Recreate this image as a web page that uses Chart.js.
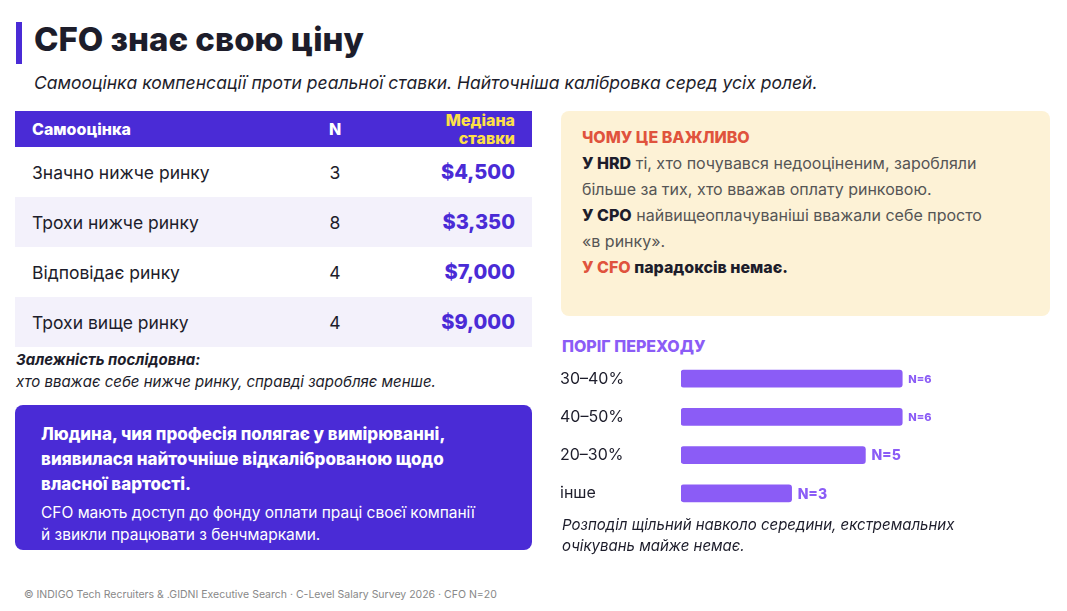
<!DOCTYPE html>
<html lang="uk">
<head>
<meta charset="utf-8">
<script src="https://cdn.jsdelivr.net/npm/chart.js@4"></script>
<style>
  body { margin: 0; width: 1067px; height: 611px; background: #fff; font-family: Inter, 'Noto Sans', sans-serif; color: #1d1d2b; position: relative; overflow: hidden; }
  .abs { position: absolute; }
  .bar { left: 16px; top: 22px; width: 6px; height: 42px; background: #4a2bd6; }
  h1 { left: 34px; top: 19px; margin: 0; font-size: 33px; font-weight: 800; }
  .sub { left: 34px; top: 72px; font-size: 17.5px; font-style: italic; }
  table { left: 15px; top: 111px; width: 517px; border-collapse: collapse; }
  th { background: #4a2bd6; color: #fff; font-size: 16px; font-weight: 800; height: 36px; padding: 0; }
  td { height: 50px; font-size: 17.5px; padding: 0; }
  tr:nth-child(odd) td { background: #f3f1fb; }
  .c1 { text-align: left; padding-left: 17px; }
  .c2 { text-align: center; width: 60px; }
  .c3 { text-align: right; padding-right: 17px; width: 150px; }
  th.c3 { color: #fde047; line-height: 18px; }
  td.c3 { color: #4a2bd6; font-weight: 800; font-size: 20px; }
  .note { left: 16px; top: 349px; font-size: 15px; font-style: italic; line-height: 22px; }
  .box { left: 15px; top: 405px; width: 517px; height: 145px; background: #4a2bd6; border-radius: 8px; color: #fff; box-sizing: border-box; padding: 17px 40px 0 26px; }
  .box b { display: block; font-size: 17px; line-height: 25px; font-weight: 800; }
  .box p { margin: 5px 10px 0 0; font-size: 15.5px; line-height: 22px; }
  .why { left: 561px; top: 111px; width: 489px; height: 205px; background: #fdf2d6; border-radius: 8px; box-sizing: border-box; padding: 13px 48px 0 21px; font-size: 16px; line-height: 26px; color: #555; }
  .why .t { color: #e0533d; font-weight: 800; font-size: 16px; }
  .why b { color: #1d1d2b; font-weight: 800; }
  .why .r { color: #e0533d; }
  .ht { left: 562px; top: 336px; color: #8b5cf6; font-weight: 800; font-size: 16px; }
  .cw { left: 560px; top: 350px; width: 416px; height: 172px; }
  .dist { left: 562px; top: 514px; font-size: 15px; font-style: italic; line-height: 21px; }
  .foot { left: 24px; top: 588px; font-size: 10.5px; color: #888; }
</style>
</head>
<body>
<div class="abs bar"></div>
<h1 class="abs">CFO знає свою ціну</h1>
<div class="abs sub">Самооцінка компенсації проти реальної ставки. Найточніша калібровка серед усіх ролей.</div>
<table class="abs">
  <tr><th class="c1">Самооцінка</th><th class="c2">N</th><th class="c3">Медіана<br>ставки</th></tr>
  <tr><td class="c1">Значно нижче ринку</td><td class="c2">3</td><td class="c3">$4,500</td></tr>
  <tr><td class="c1">Трохи нижче ринку</td><td class="c2">8</td><td class="c3">$3,350</td></tr>
  <tr><td class="c1">Відповідає ринку</td><td class="c2">4</td><td class="c3">$7,000</td></tr>
  <tr><td class="c1">Трохи вище ринку</td><td class="c2">4</td><td class="c3">$9,000</td></tr>
</table>
<div class="abs note"><b>Залежність послідовна:</b><br>хто вважає себе нижче ринку, справді заробляє менше.</div>
<div class="abs box"><b>Людина, чия професія полягає у вимірюванні, виявилася найточніше відкаліброваною щодо власної вартості.</b><p>CFO мають доступ до фонду оплати праці своєї компанії й звикли працювати з бенчмарками.</p></div>
<div class="abs why"><div class="t">ЧОМУ ЦЕ ВАЖЛИВО</div><b>У HRD</b> ті, хто почувався недооціненим, заробляли більше за тих, хто вважав оплату ринковою.<br><b>У CPO</b> найвищеоплачуваніші вважали себе просто «в ринку».<br><b><span class="r">У CFO</span> парадоксів немає.</b></div>
<div class="abs ht">ПОРІГ ПЕРЕХОДУ</div>
<div class="abs cw"><canvas id="thresholdChart"></canvas></div>
<div class="abs dist">Розподіл щільний навколо середини, екстремальних<br>очікувань майже немає.</div>
<div class="abs foot">© INDIGO Tech Recruiters &amp; .GIDNI Executive Search · C-Level Salary Survey 2026 · CFO N=20</div>
<script>
const labels = ['30–40%', '40–50%', '20–30%', 'інше']
const counts = [6, 6, 5, 3]

const labelSizes = [11, 11, 14, 14]

const nLabels = {
  id: 'nLabels',
  afterDatasetsDraw(chart) {
    const c = chart.ctx
    chart.getDatasetMeta(0).data.forEach((bar, i) => {
      c.save()
      c.fillStyle = '#8b5cf6'
      c.font = '800 ' + labelSizes[i] + 'px Inter, sans-serif'
      c.textBaseline = 'middle'
      c.fillText('N=' + counts[i], bar.x + 6, bar.y + 1)
      c.restore()
    })
  }
}

new Chart(document.getElementById('thresholdChart'), {
  type: 'bar',
  data: {
    labels: labels,
    datasets: [{
      data: counts,
      backgroundColor: '#8b5cf6',
      borderRadius: 3,
      borderSkipped: false,
      barThickness: 17,
    }],
  },
  options: {
    indexAxis: 'y',
    responsive: true,
    maintainAspectRatio: false,
    animation: false,
    layout: { padding: 0 },
    scales: {
      x: { display: false, min: 0, max: 8 },
      y: {
        grid: { display: false },
        border: { display: false },
        afterFit(axis) { axis.width = 121 },
        ticks: {
          crossAlign: 'far',
          padding: 0,
          color: '#1d1d2b',
          font: { size: 16, family: 'Inter' },
        },
      },
    },
    plugins: { legend: { display: false }, tooltip: { enabled: false } },
  },
  plugins: [nLabels],
})
</script>
</body>
</html>
